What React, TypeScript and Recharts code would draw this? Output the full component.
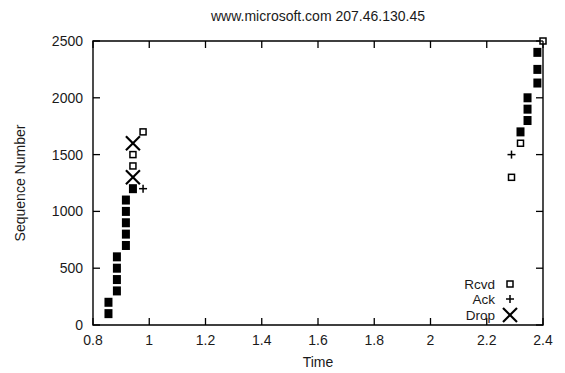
import React from "react";
import {
  ScatterChart,
  Scatter,
  XAxis,
  YAxis,
  ReferenceArea,
  Legend
} from "recharts";

// packets seen at the receiver: time, sequence number, several overlapping
const rcvdPackets = [
  { t: 0.855, seq: 100, dup: true },
  { t: 0.855, seq: 200, dup: true },
  { t: 0.885, seq: 300, dup: true },
  { t: 0.885, seq: 400, dup: true },
  { t: 0.885, seq: 500, dup: true },
  { t: 0.885, seq: 600, dup: true },
  { t: 0.917, seq: 700, dup: true },
  { t: 0.917, seq: 800, dup: true },
  { t: 0.917, seq: 900, dup: true },
  { t: 0.917, seq: 1000, dup: true },
  { t: 0.917, seq: 1100, dup: true },
  { t: 0.942, seq: 1200, dup: true },
  { t: 0.942, seq: 1400, dup: false },
  { t: 0.942, seq: 1500, dup: false },
  { t: 0.978, seq: 1700, dup: false },
  { t: 2.288, seq: 1300, dup: false },
  { t: 2.32, seq: 1600, dup: false },
  { t: 2.32, seq: 1700, dup: true },
  { t: 2.345, seq: 1800, dup: true },
  { t: 2.345, seq: 1900, dup: true },
  { t: 2.345, seq: 2000, dup: true },
  { t: 2.38, seq: 2130, dup: true },
  { t: 2.38, seq: 2250, dup: true },
  { t: 2.38, seq: 2400, dup: true },
  { t: 2.4, seq: 2500, dup: false }
];

const ackPackets = [
  { t: 0.978, seq: 1200 },
  { t: 2.288, seq: 1500 }
];

const dropPackets = [
  { t: 0.942, seq: 1300 },
  { t: 0.942, seq: 1600 }
];

const timeTicks = [0.8, 1, 1.2, 1.4, 1.6, 1.8, 2, 2.2, 2.4];
const seqTicks = [0, 500, 1000, 1500, 2000, 2500];
const keyOrder = ["Rcvd", "Ack", "Drop"];

const W = 565;
const H = 373;
const PLOT_LEFT = 93;
const PLOT_RIGHT = 543;
const PLOT_TOP = 41;
const PLOT_BOTTOM = 325;
const TICK = 7;
const FONT = "'Liberation Sans', Arial, sans-serif";
const INK = "#1a1a1a";

const XTick = (props: any) => {
  const { x, y, payload } = props;
  return (
    <g>
      <line x1={x} x2={x} y1={y} y2={y - TICK} stroke="#000" strokeWidth={1.3} />
      <line x1={x} x2={x} y1={PLOT_TOP} y2={PLOT_TOP + TICK} stroke="#000" strokeWidth={1.3} />
      <text x={x} y={y + 20} textAnchor="middle" fontSize={14} fontFamily={FONT} fill={INK}>
        {payload.value}
      </text>
    </g>
  );
};

const YTick = (props: any) => {
  const { x, y, payload } = props;
  return (
    <g>
      <line x1={x} x2={x + TICK} y1={y} y2={y} stroke="#000" strokeWidth={1.3} />
      <line x1={PLOT_RIGHT} x2={PLOT_RIGHT - TICK} y1={y} y2={y} stroke="#000" strokeWidth={1.3} />
      <text x={x - 10} y={y} dy="0.35em" textAnchor="end" fontSize={14} fontFamily={FONT} fill={INK}>
        {payload.value}
      </text>
    </g>
  );
};

const RcvdMark = ({ cx, cy, dup }: any) =>
  dup ? (
    <rect x={cx - 4} y={cy - 4.5} width={8} height={9} fill="#000" />
  ) : (
    <rect x={cx - 3} y={cy - 3} width={6} height={6} fill="#fff" stroke="#000" strokeWidth={1.5} />
  );

const AckMark = ({ cx, cy }: any) => (
  <g stroke="#000" strokeWidth={1.5}>
    <line x1={cx - 4} x2={cx + 4} y1={cy} y2={cy} />
    <line x1={cx} x2={cx} y1={cy - 4} y2={cy + 4} />
  </g>
);

const DropMark = ({ cx, cy }: any) => (
  <g stroke="#000" strokeWidth={2.2}>
    <line x1={cx - 7} x2={cx + 7} y1={cy - 7} y2={cy + 7} />
    <line x1={cx - 7} x2={cx + 7} y1={cy + 7} y2={cy - 7} />
  </g>
);

const legendMarks: Record<string, (cx: number, cy: number) => React.ReactNode> = {
  Rcvd: (cx, cy) => <RcvdMark cx={cx} cy={cy} dup={false} />,
  Ack: (cx, cy) => <AckMark cx={cx} cy={cy} />,
  Drop: (cx, cy) => <DropMark cx={cx} cy={cy} />
};

const legendRows = [7, 22, 38];

const KeyBox = (props: any) => {
  const items = [...(props.payload || [])].sort(
    (a: any, b: any) => keyOrder.indexOf(a.value) - keyOrder.indexOf(b.value)
  );
  return (
    <svg width={110} height={50}>
      {items.map((it: any, i: number) => (
        <g key={it.value}>
          <text
            x={75}
            y={legendRows[i]}
            dy="0.35em"
            textAnchor="end"
            fontSize={13.5}
            fontFamily={FONT}
            fill={INK}
          >
            {it.value}
          </text>
          {legendMarks[it.value](90, legendRows[i])}
        </g>
      ))}
    </svg>
  );
};

const SeqLabel = () => (
  <text
    x={20}
    y={(PLOT_TOP + PLOT_BOTTOM) / 2}
    transform={`rotate(-90 20 ${(PLOT_TOP + PLOT_BOTTOM) / 2})`}
    textAnchor="middle"
    dy="0.35em"
    fontSize={14}
    fontFamily={FONT}
    fill={INK}
  >
    Sequence Number
  </text>
);

const TimeLabel = () => (
  <text
    x={(PLOT_LEFT + PLOT_RIGHT) / 2}
    y={362}
    dy="0.35em"
    textAnchor="middle"
    fontSize={14}
    fontFamily={FONT}
    fill={INK}
  >
    Time
  </text>
);

export default function App() {
  return (
    <div style={{ position: "absolute", left: 0, top: 0, width: W, height: H, background: "#fff" }}>
      <div
        style={{
          position: "absolute",
          left: 0,
          width: PLOT_LEFT + PLOT_RIGHT,
          top: 8,
          textAlign: "center",
          fontFamily: FONT,
          fontSize: 14,
          color: INK,
          lineHeight: "16px"
        }}
      >
        www.microsoft.com 207.46.130.45
      </div>
      <ScatterChart
        width={W}
        height={H}
        margin={{ top: PLOT_TOP, right: W - PLOT_RIGHT, bottom: 0, left: 0 }}
      >
        <XAxis
          type="number"
          dataKey="t"
          domain={[0.8, 2.4]}
          ticks={timeTicks}
          interval={0}
          height={H - PLOT_BOTTOM}
          tickSize={0}
          tickMargin={0}
          axisLine={false}
          tickLine={false}
          tick={<XTick />}
          label={<TimeLabel />}
        />
        <YAxis
          type="number"
          dataKey="seq"
          domain={[0, 2500]}
          ticks={seqTicks}
          interval={0}
          width={PLOT_LEFT}
          tickSize={0}
          tickMargin={0}
          axisLine={false}
          tickLine={false}
          tick={<YTick />}
          label={<SeqLabel />}
        />
        <ReferenceArea
          x1={0.8}
          x2={2.4}
          y1={0}
          y2={2500}
          fill="none"
          fillOpacity={0}
          stroke="#000"
          strokeWidth={1.4}
        />
        <Scatter
          name="Rcvd"
          data={rcvdPackets}
          fill="#000"
          isAnimationActive={false}
          shape={(p: any) => <RcvdMark cx={p.cx} cy={p.cy} dup={p.payload.dup} />}
        />
        <Scatter
          name="Ack"
          data={ackPackets}
          fill="#000"
          isAnimationActive={false}
          shape={(p: any) => <AckMark cx={p.cx} cy={p.cy} />}
        />
        <Scatter
          name="Drop"
          data={dropPackets}
          fill="#000"
          isAnimationActive={false}
          shape={(p: any) => <DropMark cx={p.cx} cy={p.cy} />}
        />
        <Legend
          layout="vertical"
          align="center"
          verticalAlign="middle"
          content={<KeyBox />}
          wrapperStyle={{ position: "absolute", left: 420, top: 277, width: 110, height: 50 }}
        />
      </ScatterChart>
    </div>
  );
}
